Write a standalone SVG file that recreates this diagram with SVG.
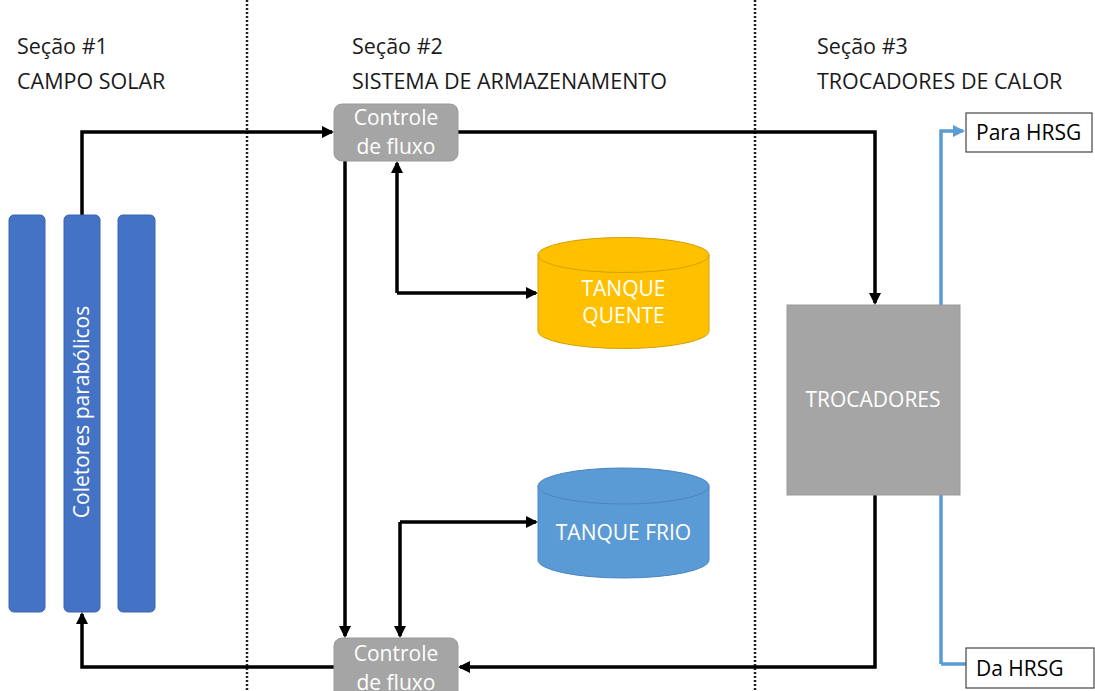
<svg xmlns="http://www.w3.org/2000/svg" width="1095" height="691" viewBox="0 0 1095 691">
<style>
.lbl{font-family:"Open Sans","Noto Sans",sans-serif;font-size:21.5px;fill:#1a1a1a}
.wt{font-family:"Open Sans","Noto Sans",sans-serif;font-size:21px;fill:#fff;text-anchor:middle}
.col{fill:#4472c4;stroke:#3a64b0;stroke-width:1}
.ctl{fill:#a5a5a5;stroke:#999;stroke-width:1}
.ln{fill:none;stroke:#000;stroke-width:3.5}
.bl{fill:none;stroke:#5b9bd5;stroke-width:3.5}
.sep{stroke:#222;stroke-width:2.5;stroke-dasharray:2 2}
.box{fill:#fff;stroke:#444;stroke-width:1.2}
.bt{font-family:"Open Sans","Noto Sans",sans-serif;font-size:21px;fill:#000}
</style>
<defs>
<marker id="ah" markerWidth="12" markerHeight="12" refX="10" refY="6" orient="auto" markerUnits="userSpaceOnUse"><path d="M0,0 L12,6 L0,12 z" fill="#000"/></marker>
<marker id="ahb" markerWidth="12" markerHeight="12" refX="10" refY="6" orient="auto" markerUnits="userSpaceOnUse"><path d="M0,0 L12,6 L0,12 z" fill="#5b9bd5"/></marker>
</defs>
<rect width="1095" height="691" fill="#fff"/>
<g id="separators">
<line class="sep" x1="247" y1="0" x2="247" y2="691"/>
<line class="sep" x1="755" y1="0" x2="755" y2="691"/>
</g>
<g id="headers">
<text class="lbl" x="17" y="54">Seção #1</text>
<text class="lbl" x="17" y="89">CAMPO SOLAR</text>
<text class="lbl" x="352" y="54">Seção #2</text>
<text class="lbl" x="352" y="89">SISTEMA DE ARMAZENAMENTO</text>
<text class="lbl" x="817" y="54">Seção #3</text>
<text class="lbl" x="817" y="89">TROCADORES DE CALOR</text>
</g>
<g id="connectors">
<polyline class="ln" points="82,215 82,132 332,132" marker-end="url(#ah)"/>
<polyline class="ln" points="458,132 875,132 875,303" marker-end="url(#ah)"/>
<polyline class="ln" points="875,495 875,667 460,667" marker-end="url(#ah)"/>
<polyline class="ln" points="334,667 82,667 82,614" marker-end="url(#ah)"/>
<line class="ln" x1="345" y1="161" x2="345" y2="636" marker-end="url(#ah)"/>
<polyline class="ln" points="397,293 397,163" marker-end="url(#ah)"/>
<polyline class="ln" points="397,293 536,293" marker-end="url(#ah)"/>
<polyline class="ln" points="400,522 400,636" marker-end="url(#ah)"/>
<polyline class="ln" points="400,522 536,522" marker-end="url(#ah)"/>
<polyline class="bl" points="941,664 941,131 963,131" marker-end="url(#ahb)"/>
<line class="bl" x1="941" y1="664" x2="966" y2="664"/>
</g>
<g id="collectors">
<rect class="col" x="9" y="215" width="36" height="397" rx="5"/>
<rect class="col" x="64" y="215" width="36" height="397" rx="5"/>
<rect class="col" x="118" y="215" width="37" height="397" rx="5"/>
<text class="wt" transform="translate(89,412) rotate(-90)">Coletores parabólicos</text>
</g>
<g id="control-top">
<rect class="ctl" x="334" y="104" width="124" height="57" rx="8"/>
<text class="wt" x="396" y="125">Controle</text>
<text class="wt" x="396" y="154">de fluxo</text>
</g>
<g id="control-bottom">
<rect class="ctl" x="334" y="638" width="124" height="62" rx="8"/>
<text class="wt" x="396" y="661">Controle</text>
<text class="wt" x="396" y="690">de fluxo</text>
</g>
<g id="tanque-quente">
<path d="M538,255 L538,331 A85.5,17.5 0 0 0 709,331 L709,255 Z" fill="#ffc000" stroke="#d4a000" stroke-width="1"/>
<ellipse cx="623.5" cy="255" rx="85.5" ry="17.5" fill="#ffc000" stroke="#d4a000" stroke-width="1"/>
<text class="wt" x="623.5" y="296">TANQUE</text>
<text class="wt" x="623.5" y="323">QUENTE</text>
</g>
<g id="tanque-frio">
<path d="M538,486 L538,560 A85.5,18 0 0 0 709,560 L709,486 Z" fill="#5b9bd5" stroke="#4a86c0" stroke-width="1"/>
<ellipse cx="623.5" cy="486" rx="85.5" ry="18" fill="#5b9bd5" stroke="#4a86c0" stroke-width="1"/>
<text class="wt" x="623.5" y="540">TANQUE FRIO</text>
</g>
<g id="trocadores">
<rect x="787" y="305" width="173" height="190" fill="#a5a5a5" stroke="#999" stroke-width="1"/>
<text class="wt" x="873" y="407">TROCADORES</text>
</g>
<g id="para-hrsg">
<rect class="box" x="966" y="113" width="126" height="39"/>
<text class="bt" x="976" y="140">Para HRSG</text>
</g>
<g id="da-hrsg">
<rect class="box" x="966" y="648" width="128" height="40"/>
<text class="bt" x="976" y="676">Da HRSG</text>
</g>
</svg>
